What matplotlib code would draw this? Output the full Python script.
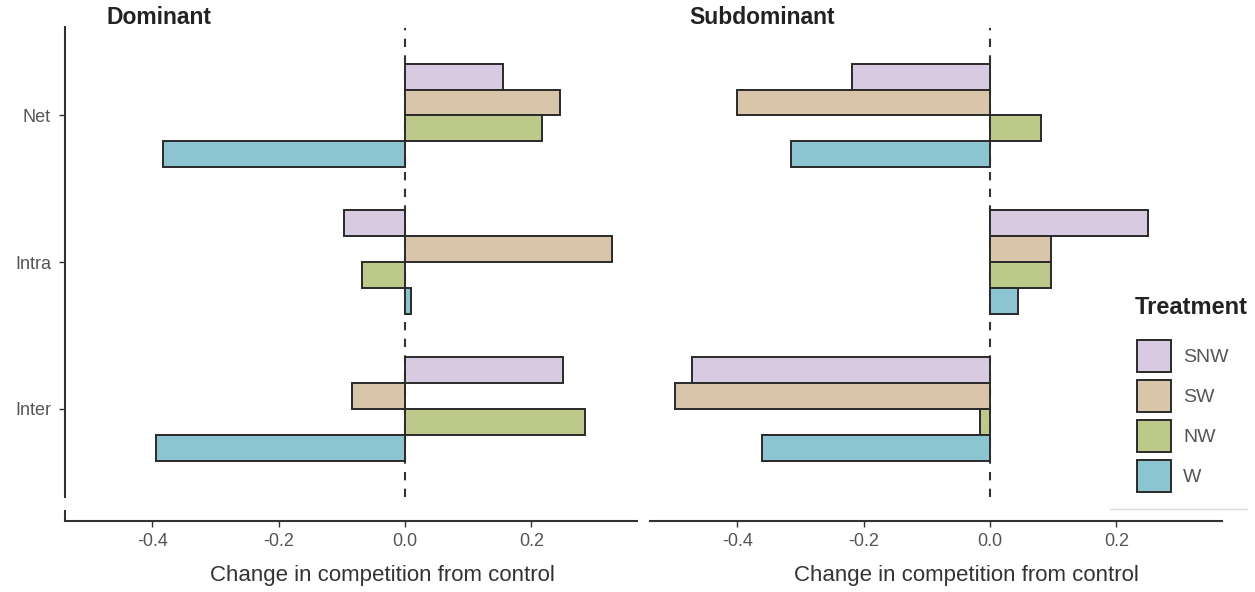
import numpy as np
import matplotlib
matplotlib.use('Agg')
import matplotlib.pyplot as plt
from matplotlib.patches import Patch
from matplotlib.lines import Line2D

plt.rcParams['font.family'] = ['Liberation Sans', 'DejaVu Sans']
plt.rcParams['axes.unicode_minus'] = False

# categories (top to bottom) and treatments
categories = ['Net', 'Intra', 'Inter']
treatments = ['SNW', 'SW', 'NW', 'W']
colors = ['#D8CAE1', '#D9C5AA', '#BDC98A', '#8DC4D1']

# Dominant: change in competition from control (Net, Intra, Inter)
dom_snw = [0.155, -0.097, 0.250]
dom_sw = [0.245, 0.327, -0.084]
dom_nw = [0.217, -0.068, 0.285]
dom_w = [-0.383, 0.009, -0.394]

# Subdominant
sub_snw = [-0.218, 0.250, -0.472]
sub_sw = [-0.400, 0.097, -0.498]
sub_nw = [0.081, 0.097, -0.016]
sub_w = [-0.315, 0.044, -0.361]

xticks = [-0.4, -0.2, 0.0, 0.2]
xticklabels = ['-0.4', '-0.2', '0.0', '0.2']

W, H = 1255, 592
fig = plt.figure(figsize=(W / 100, H / 100), dpi=100)

ax_bottom = 1 - 521 / H
ax_height = (521 - 27.5) / H
ax1 = fig.add_axes([65 / W, ax_bottom, 572 / W, ax_height])
ax2 = fig.add_axes([650 / W, ax_bottom, 572 / W, ax_height])

ypos = np.array([2, 1, 0])
bh = 0.177
edge = '#2a2a2a'
line_col = '#333333'

panels = [
    (ax1, [dom_snw, dom_sw, dom_nw, dom_w]),
    (ax2, [sub_snw, sub_sw, sub_nw, sub_w]),
]

for ax, vals in panels:
    ax.plot([0, 0], [-0.6, 2.6], color=line_col, lw=1.5, ls=(0, (4, 4)), zorder=1)
    for i, (v, c) in enumerate(zip(vals, colors)):
        ax.barh(ypos + (1.5 - i) * bh, v, height=bh, color=c,
                edgecolor=edge, linewidth=1.4, zorder=2)
    ax.set_xlim(-0.538, 0.367)
    ax.set_ylim(-0.765, 2.6)
    ax.set_xticks(xticks)
    ax.set_xticklabels(xticklabels)
    ax.tick_params(axis='x', length=4, width=1, color=line_col, pad=5,
                   labelsize=13, labelcolor='#555555')
    for s in ['top', 'right']:
        ax.spines[s].set_visible(False)
    ax.spines['bottom'].set_color(line_col)
    ax.spines['bottom'].set_linewidth(1.5)

# left panel y axis
ax1.set_yticks(ypos)
ax1.set_yticklabels(categories)
ax1.tick_params(axis='y', length=4, width=1, color=line_col, pad=6,
                labelsize=13, labelcolor='#555555')
ax1.spines['left'].set_bounds(-0.6, 2.6)
ax1.spines['left'].set_color(line_col)
ax1.spines['left'].set_linewidth(1.5)
ax1.plot([-0.538, -0.538], [-0.69, -0.765], color=line_col, lw=1.5,
         clip_on=False, solid_capstyle='butt')

# right panel: no y axis
ax2.spines['left'].set_visible(False)
ax2.set_yticks([])

# titles and axis labels
fig.text(107 / W, 1 - 17 / H, 'Dominant', fontsize=16.5, fontweight='bold',
         color='#222222', ha='left', va='center')
fig.text(689 / W, 1 - 17 / H, 'Subdominant', fontsize=16.5, fontweight='bold',
         color='#222222', ha='left', va='center')
fig.text(382 / W, 1 - 575 / H, 'Change in competition from control',
         fontsize=16, color='#333333', ha='center', va='center')
fig.text(966 / W, 1 - 575 / H, 'Change in competition from control',
         fontsize=16, color='#333333', ha='center', va='center')

# legend
fig.text(1135 / W, 1 - 308 / H, 'Treatment', fontsize=17, fontweight='bold',
         color='#222222', ha='left', va='center')
handles = [Patch(facecolor=c, edgecolor=edge, linewidth=1.4, label=t)
           for t, c in zip(treatments, colors)]
fig.legend(handles=handles, loc='upper left',
           bbox_to_anchor=(1137 / W, 1 - 340 / H), frameon=False,
           fontsize=14, handlelength=1.75, handleheight=2.15,
           labelspacing=0.41, handletextpad=0.62, borderpad=0,
           borderaxespad=0, labelcolor='#555555')
fig.add_artist(Line2D([1110 / W, 1247 / W], [1 - 509 / H, 1 - 509 / H],
                      color='#dddddd', lw=1))

fig.savefig('out.png', dpi=100)
